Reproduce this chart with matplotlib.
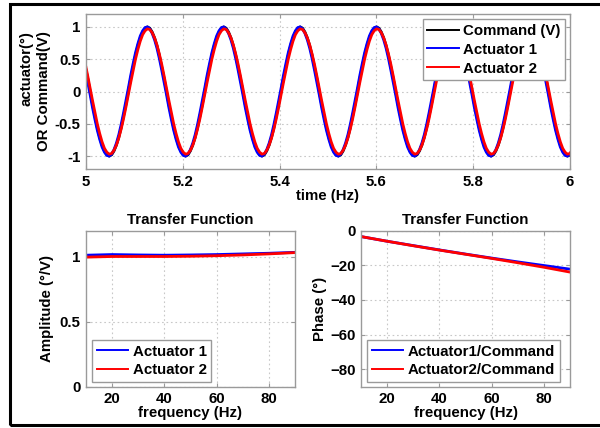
"""
Actuator response to a sine command, and the transfer function of both actuators.
"""

import matplotlib
matplotlib.use("Agg")
import matplotlib.pyplot as plt
from matplotlib.patches import Rectangle

# Time trace, one sample every 1/32 of a command period.
T_START = 4.9986875
T_STEP = 0.00493125
N_SAMPLES = 205
time_s = [T_START + i * T_STEP for i in range(N_SAMPLES)]

command_v = [
    0.38, 0.20, 0.00, -0.20, -0.38, -0.56, -0.71, -0.83, -0.92, -0.98, -1.00, -0.98, -0.92, -0.83, -0.71, -0.56,
    -0.38, -0.20, 0.00, 0.20, 0.38, 0.56, 0.71, 0.83, 0.92, 0.98, 1.00, 0.98, 0.92, 0.83, 0.71, 0.56,
    0.38, 0.20, 0.00, -0.20, -0.38, -0.56, -0.71, -0.83, -0.92, -0.98, -1.00, -0.98, -0.92, -0.83, -0.71, -0.56,
    -0.38, -0.20, 0.00, 0.20, 0.38, 0.56, 0.71, 0.83, 0.92, 0.98, 1.00, 0.98, 0.92, 0.83, 0.71, 0.56,
    0.38, 0.20, 0.00, -0.20, -0.38, -0.56, -0.71, -0.83, -0.92, -0.98, -1.00, -0.98, -0.92, -0.83, -0.71, -0.56,
    -0.38, -0.20, 0.00, 0.20, 0.38, 0.56, 0.71, 0.83, 0.92, 0.98, 1.00, 0.98, 0.92, 0.83, 0.71, 0.56,
    0.38, 0.20, 0.00, -0.20, -0.38, -0.56, -0.71, -0.83, -0.92, -0.98, -1.00, -0.98, -0.92, -0.83, -0.71, -0.56,
    -0.38, -0.20, 0.00, 0.20, 0.38, 0.56, 0.71, 0.83, 0.92, 0.98, 1.00, 0.98, 0.92, 0.83, 0.71, 0.56,
    0.38, 0.20, 0.00, -0.20, -0.38, -0.56, -0.71, -0.83, -0.92, -0.98, -1.00, -0.98, -0.92, -0.83, -0.71, -0.56,
    -0.38, -0.20, 0.00, 0.20, 0.38, 0.56, 0.71, 0.83, 0.92, 0.98, 1.00, 0.98, 0.92, 0.83, 0.71, 0.56,
    0.38, 0.20, 0.00, -0.20, -0.38, -0.56, -0.71, -0.83, -0.92, -0.98, -1.00, -0.98, -0.92, -0.83, -0.71, -0.56,
    -0.38, -0.20, 0.00, 0.20, 0.38, 0.56, 0.71, 0.83, 0.92, 0.98, 1.00, 0.98, 0.92, 0.83, 0.71, 0.56,
    0.38, 0.20, 0.00, -0.20, -0.38, -0.56, -0.71, -0.83, -0.92, -0.98, -1.00, -0.98, -0.92,
]

# Actuator 1 runs a touch ahead of the command.
actuator1_deg = [
    0.33, 0.14, -0.05, -0.25, -0.43, -0.60, -0.74, -0.86, -0.94, -0.99, -1.00, -0.97, -0.90, -0.80, -0.67, -0.51,
    -0.33, -0.14, 0.05, 0.25, 0.43, 0.60, 0.74, 0.86, 0.94, 0.99, 1.00, 0.97, 0.90, 0.80, 0.67, 0.51,
    0.33, 0.14, -0.05, -0.25, -0.43, -0.60, -0.74, -0.86, -0.94, -0.99, -1.00, -0.97, -0.90, -0.80, -0.67, -0.51,
    -0.33, -0.14, 0.05, 0.25, 0.43, 0.60, 0.74, 0.86, 0.94, 0.99, 1.00, 0.97, 0.90, 0.80, 0.67, 0.51,
    0.33, 0.14, -0.05, -0.25, -0.43, -0.60, -0.74, -0.86, -0.94, -0.99, -1.00, -0.97, -0.90, -0.80, -0.67, -0.51,
    -0.33, -0.14, 0.05, 0.25, 0.43, 0.60, 0.74, 0.86, 0.94, 0.99, 1.00, 0.97, 0.90, 0.80, 0.67, 0.51,
    0.33, 0.14, -0.05, -0.25, -0.43, -0.60, -0.74, -0.86, -0.94, -0.99, -1.00, -0.97, -0.90, -0.80, -0.67, -0.51,
    -0.33, -0.14, 0.05, 0.25, 0.43, 0.60, 0.74, 0.86, 0.94, 0.99, 1.00, 0.97, 0.90, 0.80, 0.67, 0.51,
    0.33, 0.14, -0.05, -0.25, -0.43, -0.60, -0.74, -0.86, -0.94, -0.99, -1.00, -0.97, -0.90, -0.80, -0.67, -0.51,
    -0.33, -0.14, 0.05, 0.25, 0.43, 0.60, 0.74, 0.86, 0.94, 0.99, 1.00, 0.97, 0.90, 0.80, 0.67, 0.51,
    0.33, 0.14, -0.05, -0.25, -0.43, -0.60, -0.74, -0.86, -0.94, -0.99, -1.00, -0.97, -0.90, -0.80, -0.67, -0.51,
    -0.33, -0.14, 0.05, 0.25, 0.43, 0.60, 0.74, 0.86, 0.94, 0.99, 1.00, 0.97, 0.90, 0.80, 0.67, 0.51,
    0.33, 0.14, -0.05, -0.25, -0.43, -0.60, -0.74, -0.86, -0.94, -0.99, -1.00, -0.97, -0.90,
]

# Actuator 2 lags a little and peaks a little lower.
actuator2_deg = [
    0.42, 0.24, 0.05, -0.14, -0.32, -0.50, -0.65, -0.78, -0.88, -0.94, -0.97, -0.96, -0.91, -0.83, -0.72, -0.58,
    -0.42, -0.24, -0.05, 0.14, 0.32, 0.50, 0.65, 0.78, 0.88, 0.94, 0.97, 0.96, 0.91, 0.83, 0.72, 0.58,
    0.42, 0.24, 0.05, -0.14, -0.32, -0.50, -0.65, -0.78, -0.88, -0.94, -0.97, -0.96, -0.91, -0.83, -0.72, -0.58,
    -0.42, -0.24, -0.05, 0.14, 0.32, 0.50, 0.65, 0.78, 0.88, 0.94, 0.97, 0.96, 0.91, 0.83, 0.72, 0.58,
    0.42, 0.24, 0.05, -0.14, -0.32, -0.50, -0.65, -0.78, -0.88, -0.94, -0.97, -0.96, -0.91, -0.83, -0.72, -0.58,
    -0.42, -0.24, -0.05, 0.14, 0.32, 0.50, 0.65, 0.78, 0.88, 0.94, 0.97, 0.96, 0.91, 0.83, 0.72, 0.58,
    0.42, 0.24, 0.05, -0.14, -0.32, -0.50, -0.65, -0.78, -0.88, -0.94, -0.97, -0.96, -0.91, -0.83, -0.72, -0.58,
    -0.42, -0.24, -0.05, 0.14, 0.32, 0.50, 0.65, 0.78, 0.88, 0.94, 0.97, 0.96, 0.91, 0.83, 0.72, 0.58,
    0.42, 0.24, 0.05, -0.14, -0.32, -0.50, -0.65, -0.78, -0.88, -0.94, -0.97, -0.96, -0.91, -0.83, -0.72, -0.58,
    -0.42, -0.24, -0.05, 0.14, 0.32, 0.50, 0.65, 0.78, 0.88, 0.94, 0.97, 0.96, 0.91, 0.83, 0.72, 0.58,
    0.42, 0.24, 0.05, -0.14, -0.32, -0.50, -0.65, -0.78, -0.88, -0.94, -0.97, -0.96, -0.91, -0.83, -0.72, -0.58,
    -0.42, -0.24, -0.05, 0.14, 0.32, 0.50, 0.65, 0.78, 0.88, 0.94, 0.97, 0.96, 0.91, 0.83, 0.72, 0.58,
    0.42, 0.24, 0.05, -0.14, -0.32, -0.50, -0.65, -0.78, -0.88, -0.94, -0.97, -0.96, -0.91,
]

# Transfer function, 10 Hz to 90 Hz.
freq_hz = [10, 20, 30, 40, 50, 60, 70, 80, 90]
amp1 = [1.010, 1.015, 1.012, 1.010, 1.012, 1.015, 1.020, 1.025, 1.032]
amp2 = [0.995, 1.000, 1.000, 1.000, 1.002, 1.006, 1.012, 1.020, 1.030]
phase1 = [-3.5, -6.2, -8.7, -11.2, -13.6, -15.9, -18.1, -20.2, -22.3]
phase2 = [-3.5, -6.2, -8.8, -11.3, -13.7, -16.1, -18.6, -21.2, -24.0]

GRID_C = "#c8c8c8"
SPINE_C = "#9a9a9a"
FS = 10.8

plt.rcParams["font.family"] = ["Liberation Sans", "DejaVu Sans"]
plt.rcParams["font.weight"] = "bold"
plt.rcParams["axes.labelweight"] = "bold"
plt.rcParams["axes.titleweight"] = "bold"
plt.rcParams["font.size"] = FS

fig = plt.figure(figsize=(6.0, 4.28), dpi=100)

# Black frame round the whole picture, its right edge falls outside.
fig.patches.append(Rectangle((10 / 600, 3 / 428), 1.0, 421 / 428,
                             transform=fig.transFigure, fill=False,
                             edgecolor="black", linewidth=2.2))

ax_t = fig.add_axes([86 / 600, 1 - 169 / 428, 484 / 600, 155 / 428])
ax_a = fig.add_axes([86 / 600, 1 - 386.5 / 428, 209 / 600, 156 / 428])
ax_p = fig.add_axes([361 / 600, 1 - 386.5 / 428, 209 / 600, 156 / 428])


def style_axes(ax):
    # MATLAB look: grey box, inward ticks, dotted grid.
    for sp in ax.spines.values():
        sp.set_color(SPINE_C)
        sp.set_linewidth(1.0)
    ax.tick_params(direction="in", length=3, color=SPINE_C, labelsize=FS,
                   top=True, right=True, pad=4)
    ax.grid(True, linestyle=(0, (1.5, 2.5)), color=GRID_C, linewidth=0.8)
    ax.set_axisbelow(True)


def add_legend(ax, loc, anchor):
    leg = ax.legend(loc=loc, bbox_to_anchor=anchor, fancybox=False,
                    edgecolor=SPINE_C, framealpha=1, handlelength=2.1,
                    handletextpad=0.3, borderpad=0.3, labelspacing=0.32,
                    borderaxespad=0, fontsize=FS)
    leg.get_frame().set_linewidth(1.0)
    # Legend keys are drawn thinner than the data lines.
    for ln in leg.get_lines():
        ln.set_linewidth(1.4)


# Time domain plot.
ax_t.plot(time_s, command_v, color="black", linewidth=2.0, label="Command (V)")
ax_t.plot(time_s, actuator1_deg, color="blue", linewidth=2.0, label="Actuator 1")
ax_t.plot(time_s, actuator2_deg, color="red", linewidth=2.0, label="Actuator 2")
ax_t.set_xlim(5, 6)
ax_t.set_ylim(-1.2, 1.2)
ax_t.set_xticks([5, 5.2, 5.4, 5.6, 5.8, 6])
ax_t.set_xticklabels(["5", "5.2", "5.4", "5.6", "5.8", "6"])
ax_t.set_yticks([-1, -0.5, 0, 0.5, 1])
ax_t.set_yticklabels(["-1", "-0.5", "0", "0.5", "1"])
ax_t.set_xlabel("time (Hz)", labelpad=0)
ax_t.set_ylabel("actuator(°)\nOR Command(V)", linespacing=1.3,
                multialignment="right")
ax_t.yaxis.set_label_coords(-0.072, 0.5)
style_axes(ax_t)
add_legend(ax_t, "upper right", (0.99, 0.965))

# Amplitude of transfer function.
ax_a.plot(freq_hz, amp1, color="blue", linewidth=2.0, label="Actuator 1")
ax_a.plot(freq_hz, amp2, color="red", linewidth=2.0, label="Actuator 2")
ax_a.set_xlim(10, 90)
ax_a.set_ylim(0, 1.2)
ax_a.set_xticks([20, 40, 60, 80])
ax_a.set_yticks([0, 0.5, 1])
ax_a.set_yticklabels(["0", "0.5", "1"])
ax_a.set_title("Transfer Function", fontsize=FS, pad=5)
ax_a.set_xlabel("frequency (Hz)", labelpad=0)
ax_a.set_ylabel("Amplitude (°/V)", labelpad=4)
style_axes(ax_a)
add_legend(ax_a, "lower left", (0.03, 0.03))

# Phase of transfer function.
ax_p.plot(freq_hz, phase1, color="blue", linewidth=2.0, label="Actuator1/Command")
ax_p.plot(freq_hz, phase2, color="red", linewidth=2.0, label="Actuator2/Command")
ax_p.set_xlim(10, 90)
ax_p.set_ylim(-90, 0)
ax_p.set_xticks([20, 40, 60, 80])
ax_p.set_yticks([-80, -60, -40, -20, 0])
ax_p.set_title("Transfer Function", fontsize=FS, pad=5)
ax_p.set_xlabel("frequency (Hz)", labelpad=0)
ax_p.set_ylabel("Phase (°)", labelpad=2)
style_axes(ax_p)
add_legend(ax_p, "lower left", (0.03, 0.03))

fig.savefig("out.png", dpi=100)
